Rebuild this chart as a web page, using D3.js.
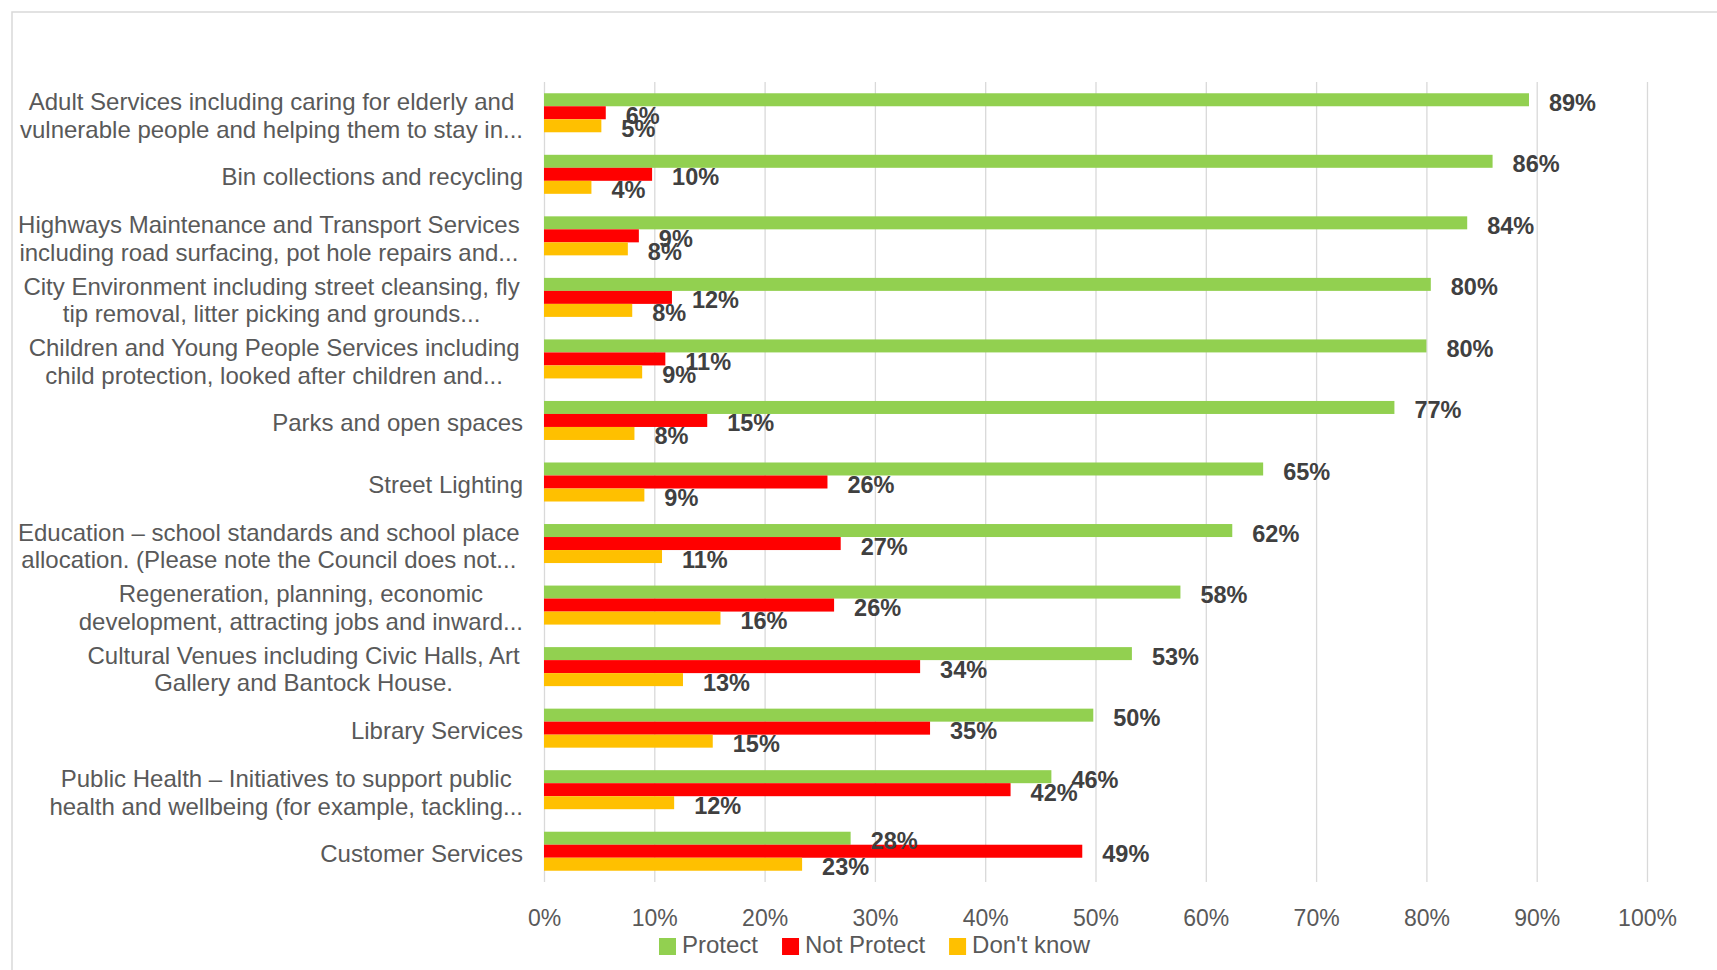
<!DOCTYPE html>
<html>
<head>
<meta charset="utf-8">
<script src="https://cdn.jsdelivr.net/npm/d3@7"></script>
<style>
  html, body { margin: 0; padding: 0; background: #ffffff; }
  svg { display: block; font-family: "Liberation Sans", Arial, sans-serif; }
</style>
</head>
<body>
<svg id="chart" width="1717" height="970"></svg>
<script>
// Service areas (wrapped label lines, top to bottom)
const categories = [
  ["Adult Services including caring for elderly and", "vulnerable people and helping them to stay in..."],
  ["Bin collections and recycling"],
  ["Highways Maintenance and Transport Services", "including road surfacing, pot hole repairs and..."],
  ["City Environment including street cleansing, fly", "tip removal, litter picking and grounds..."],
  ["Children and Young People Services including", "child protection, looked after children and..."],
  ["Parks and open spaces"],
  ["Street Lighting"],
  ["Education \u2013 school standards and school place", "allocation. (Please note the Council does not..."],
  ["Regeneration, planning, economic", "development, attracting jobs and inward..."],
  ["Cultural Venues including Civic Halls, Art", "Gallery and Bantock House."],
  ["Library Services"],
  ["Public Health \u2013 Initiatives to support public", "health and wellbeing (for example, tackling..."],
  ["Customer Services"]
];

// Share of respondents per answer
const protect    = [0.893, 0.860, 0.837, 0.804, 0.800, 0.771, 0.652, 0.624, 0.577, 0.533, 0.498, 0.460, 0.278];
const notProtect = [0.056, 0.098, 0.086, 0.116, 0.110, 0.148, 0.257, 0.269, 0.263, 0.341, 0.350, 0.423, 0.488];
const dontKnow   = [0.052, 0.043, 0.076, 0.080, 0.089, 0.082, 0.091, 0.107, 0.160, 0.126, 0.153, 0.118, 0.234];

const seriesNames  = ["Protect", "Not Protect", "Don't know"];
const seriesColors = ["#92D050", "#FF0000", "#FFC000"];
const tickValues   = [0, 0.1, 0.2, 0.3, 0.4, 0.5, 0.6, 0.7, 0.8, 0.9, 1.0];

const series = [protect, notProtect, dontKnow];
const svg = d3.select("#chart");

// Chart frame (light border along top and left)
svg.append("path")
  .attr("d", "M12,970V12H1717")
  .attr("fill", "none")
  .attr("stroke", "#d9d9d9")
  .attr("stroke-width", 1.5);

const plot = { left: 544, right: 1647, top: 82, bottom: 882 };

const x = d3.scaleLinear().domain([0, 1]).range([plot.left, plot.right]);
const y = d3.scaleBand()
  .domain(d3.range(categories.length))
  .range([plot.top, plot.bottom])
  .paddingInner(0.366)
  .paddingOuter(0.183);
const ySub = d3.scaleBand()
  .domain(d3.range(series.length))
  .range([0, y.bandwidth()]);

const fmt = d3.format(".0%");

// Vertical gridlines
const grid = svg.append("g")
  .attr("transform", `translate(0,${plot.bottom})`)
  .call(d3.axisBottom(x).tickValues(tickValues).tickSize(-(plot.bottom - plot.top)).tickFormat(""));
grid.select(".domain").remove();
grid.selectAll("line").attr("stroke", "#d9d9d9").attr("stroke-width", 1.3);

// X axis tick labels
const xAxis = svg.append("g")
  .attr("transform", `translate(0,${plot.bottom})`)
  .call(d3.axisBottom(x).tickValues(tickValues).tickSize(0).tickFormat(fmt));
xAxis.select(".domain").remove();
xAxis.selectAll("text")
  .attr("y", 44)
  .attr("dy", null)
  .attr("fill", "#595959")
  .style("font-size", "23px")
  .style("font-family", "Liberation Sans, Arial, sans-serif");

// Bars
const groups = svg.append("g").selectAll("g")
  .data(categories.map((c, i) => i))
  .join("g")
  .attr("transform", i => `translate(0,${y(i)})`);

groups.selectAll("rect")
  .data(i => series.map((s, k) => ({ k, v: s[i] })))
  .join("rect")
  .attr("x", x(0))
  .attr("y", d => ySub(d.k))
  .attr("width", d => x(d.v) - x(0))
  .attr("height", ySub.bandwidth())
  .attr("fill", d => seriesColors[d.k]);

// Value labels at bar ends
groups.selectAll("text.val")
  .data(i => series.map((s, k) => ({ k, v: s[i] })))
  .join("text")
  .attr("class", "val")
  .attr("x", d => x(d.v) + 20)
  .attr("y", d => ySub(d.k) + ySub.bandwidth() / 2 + 11)
  .attr("fill", "#404040")
  .style("font-size", "23.5px")
  .style("font-weight", "bold")
  .text(d => fmt(d.v));

// Category labels: lines centred on each other, block right-aligned to the axis.
// Wrapped lines keep their trailing space when measuring the block width.
const labelRight = 523;
const lineHeight = 27.7;
const labelFont = "24px";
const spaceProbe = svg.append("text").style("font-size", labelFont).text("a a");
const spaceW = spaceProbe.node().getComputedTextLength();
spaceProbe.text("aa");
const space = spaceW - spaceProbe.node().getComputedTextLength();
spaceProbe.remove();

categories.forEach((lines, i) => {
  const cy = y(i) + y.bandwidth() / 2;
  const t = svg.append("text")
    .attr("fill", "#595959")
    .style("font-size", labelFont);
  const spans = lines.map((line, j) =>
    t.append("tspan")
      .attr("y", cy + 11 + (j - (lines.length - 1) / 2) * lineHeight)
      .text(line));
  const widths = spans.map((s, j) =>
    s.node().getComputedTextLength() + (j < lines.length - 1 ? space : 0));
  const maxW = d3.max(widths);
  const mid = labelRight - maxW / 2;
  spans.forEach(s => s.attr("x", mid).attr("text-anchor", "middle"));
});

// Legend
const legend = svg.append("g").attr("transform", "translate(659,0)");
let lx = 0;
seriesNames.forEach((name, k) => {
  legend.append("rect")
    .attr("x", lx).attr("y", 938)
    .attr("width", 17).attr("height", 17)
    .attr("fill", seriesColors[k]);
  const txt = legend.append("text")
    .attr("x", lx + 23).attr("y", 953)
    .attr("fill", "#595959")
    .style("font-size", "24px")
    .text(name);
  lx += 23 + txt.node().getComputedTextLength() + 24;
});
</script>
</body>
</html>
